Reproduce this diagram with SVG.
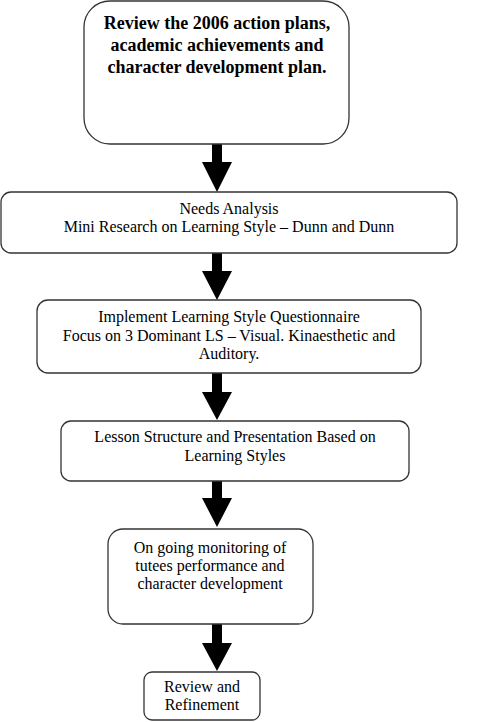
<svg xmlns="http://www.w3.org/2000/svg" width="489" height="722" viewBox="0 0 489 722">
<style>
.box{fill:#fff;stroke:#333;stroke-width:1.3}
.t{font-family:"Liberation Serif","Times New Roman",serif;font-size:16px;fill:#000;text-anchor:middle}
.big{font-size:18px;font-weight:bold}
.arr{fill:#000}
</style>
<rect width="489" height="722" fill="#fff"/>
<g id="connectors">
<path class="arr" d="M212,144 H222 V162 H232 L217,192 L202,162 H212 Z"/>
<path class="arr" d="M212,253 H222 V271 H232 L217,300 L202,271 H212 Z"/>
<path class="arr" d="M212,373 H222 V392 H232 L217,420 L202,392 H212 Z"/>
<path class="arr" d="M212,481 H222 V498 H232 L217,527 L202,498 H212 Z"/>
<path class="arr" d="M212,624 H222 V643 H232 L217,671 L202,643 H212 Z"/>
</g>
<g id="n1">
<rect class="box" x="84" y="1" width="265" height="143" rx="26"/>
<text class="t big" x="217" y="29">Review the 2006 action plans,</text>
<text class="t big" x="217" y="51">academic achievements and</text>
<text class="t big" x="217" y="73">character development plan.</text>
</g>
<g id="n2">
<rect class="box" x="1" y="192" width="456" height="61" rx="10"/>
<text class="t" x="229" y="214">Needs Analysis</text>
<text class="t" x="229" y="232">Mini Research on Learning Style – Dunn and Dunn</text>
</g>
<g id="n3">
<rect class="box" x="37" y="300" width="384" height="73" rx="11"/>
<text class="t" x="229" y="322">Implement Learning Style Questionnaire</text>
<text class="t" x="229" y="341">Focus on 3 Dominant LS – Visual. Kinaesthetic and</text>
<text class="t" x="229" y="359">Auditory.</text>
</g>
<g id="n4">
<rect class="box" x="61" y="421" width="348" height="60" rx="10"/>
<text class="t" x="235" y="442">Lesson Structure and Presentation Based on</text>
<text class="t" x="235" y="461">Learning Styles</text>
</g>
<g id="n5">
<rect class="box" x="108" y="529" width="205" height="95" rx="15"/>
<text class="t" x="210" y="553">On going monitoring of</text>
<text class="t" x="210" y="571">tutees performance and</text>
<text class="t" x="210" y="589">character development</text>
</g>
<g id="n6">
<rect class="box" x="144" y="672" width="116" height="48" rx="8"/>
<text class="t" x="202" y="692">Review and</text>
<text class="t" x="202" y="710">Refinement</text>
</g>
</svg>
